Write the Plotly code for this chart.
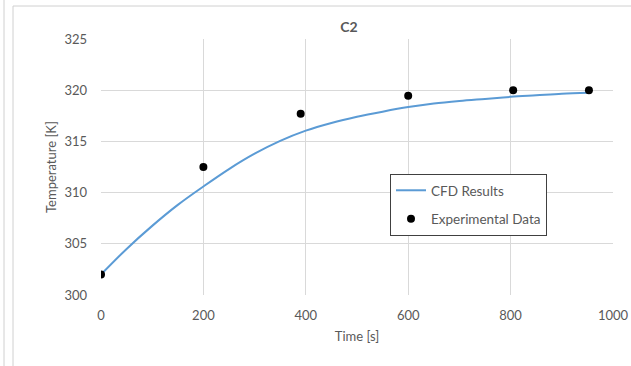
import plotly.graph_objects as go

# CFD results
cfd_time = [0, 50, 100, 150, 200, 250, 300, 350, 400, 450, 500, 550, 600, 650, 700, 750, 800, 850, 900, 952]
cfd_temp = [302.0, 304.5, 306.75, 308.8, 310.6, 312.3, 313.8, 315.05, 316.05, 316.8, 317.4, 317.9, 318.35, 318.7, 318.95, 319.15, 319.35, 319.5, 319.65, 319.75]

# Experimental data
exp_time = [0, 200, 390, 600, 805, 953]
exp_temp = [302.0, 312.5, 317.7, 319.45, 320.0, 320.0]

x_ticks = [0, 200, 400, 600, 800, 1000]
y_ticks = [300, 305, 310, 315, 320, 325]

FONT = "Lato"
GRAY = "#595959"
GRID = "#d9d9d9"

fig = go.Figure()
fig.add_trace(go.Scatter(x=cfd_time, y=cfd_temp, mode="lines", name="CFD Results",
                         line=dict(color="#5B9BD5", width=2, shape="spline", smoothing=1.0),
                         legendgroup="a"))
fig.add_trace(go.Scatter(x=exp_time, y=exp_temp, mode="markers", name="Experimental Data",
                         marker=dict(color="black", size=8), legendgroup="b"))

fig.update_layout(
    width=631, height=366,
    margin=dict(l=101, r=18, t=39, b=71, autoexpand=False),
    paper_bgcolor="white", plot_bgcolor="white",
    font=dict(family=FONT, color=GRAY, size=12),
    title=dict(text="<b>C2</b>", x=349 / 631, xanchor="center", y=1 - 27 / 366, yanchor="middle",
               font=dict(family=FONT, size=14, color=GRAY)),
    xaxis=dict(range=[0, 1000], tickvals=x_ticks, showgrid=True, gridcolor=GRID, gridwidth=1,
               zeroline=False, showline=False, ticks="", ticklabelstandoff=11,
               tickfont=dict(size=13, color=GRAY), automargin=False,
               title=dict(text="Time [s]", font=dict(size=13, color=GRAY), standoff=9)),
    yaxis=dict(range=[300, 325], tickvals=y_ticks, showgrid=True, gridcolor=GRID, gridwidth=1,
               zeroline=False, showline=False, ticks="", ticklabelstandoff=13,
               tickfont=dict(size=13, color=GRAY), automargin=False,
               title=dict(text="Temperature [K]", font=dict(size=13, color=GRAY), standoff=4)),
    legend=dict(x=(390 - 101) / 512, y=(295 - 174) / 256, xanchor="left", yanchor="top",
                bordercolor="#404040", borderwidth=1, bgcolor="white",
                font=dict(size=13.5, color=GRAY), tracegroupgap=8, traceorder="grouped"),
    showlegend=True,
)

# outer frame lines (decoration of the source screenshot)
def px_x(p):
    return (p - 101) / 512

def px_y(p):
    return (295 - p) / 256

fig.add_shape(type="line", xref="paper", yref="paper", x0=px_x(4), x1=px_x(4), y0=px_y(0), y1=px_y(366),
              line=dict(color="#d0d0d0", width=1))
fig.add_shape(type="line", xref="paper", yref="paper", x0=px_x(13), x1=px_x(13), y0=px_y(6), y1=px_y(366),
              line=dict(color="#d0d0d0", width=1))
fig.add_shape(type="line", xref="paper", yref="paper", x0=px_x(13), x1=px_x(631), y0=px_y(6), y1=px_y(6),
              line=dict(color="#d0d0d0", width=1))

fig.write_html("out.html")
